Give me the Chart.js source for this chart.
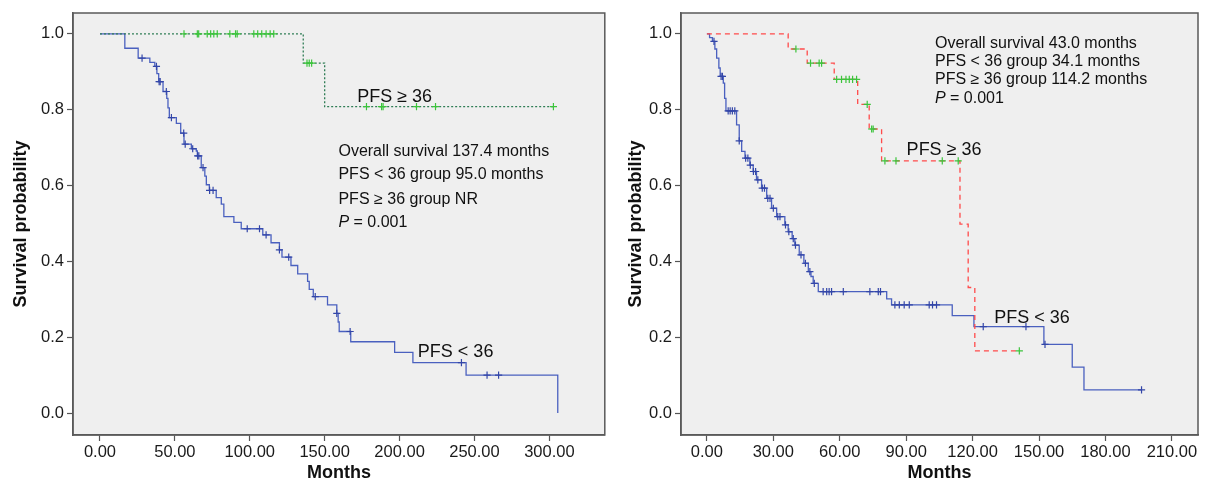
<!DOCTYPE html>
<html>
<head>
<meta charset="utf-8">
<script src="https://cdn.jsdelivr.net/npm/chart.js@4.4.0/dist/chart.umd.min.js"></script>
<style>
  body { margin: 0; background: #fff; }
  #wrap { position: relative; width: 1206px; height: 485px; }
  #c1 { position: absolute; left: 0; top: 0; }
  #c2 { position: absolute; left: 610px; top: 0; }
</style>
</head>
<body>
<div id="wrap">
  <canvas id="c1" width="610" height="485"></canvas>
  <canvas id="c2" width="596" height="485"></canvas>
</div>
<script>
// ---- data (months, survival) ----
// left panel, PFS < 36
const leftLowTimes = [0, 16.6, 25.5, 33.3, 36.6, 38.0, 39.2, 42.1, 44.6, 45.4, 46.3, 51.0, 53.9, 56.1, 61.0, 64.3, 65.0, 67.6, 70.0, 71.0, 73.0, 77.6, 81.0, 82.7, 89.4, 94.3, 108.7, 114.2, 119.8, 121.5, 127.5, 132.0, 138.6, 139.7, 142.4, 151.9, 158.1, 159.0, 159.7, 167.4, 196.7, 208.9, 244.4, 305.6];
const leftLowSurv = [1.0, 0.962, 0.936, 0.925, 0.914, 0.895, 0.874, 0.848, 0.83, 0.805, 0.779, 0.764, 0.738, 0.709, 0.697, 0.691, 0.678, 0.647, 0.625, 0.602, 0.587, 0.568, 0.551, 0.518, 0.503, 0.486, 0.470, 0.449, 0.430, 0.411, 0.389, 0.367, 0.347, 0.326, 0.307, 0.285, 0.263, 0.24, 0.215, 0.188, 0.160, 0.133, 0.100, 0.0];
const leftLowCensor = [28.1, 37.7, 39.5, 40.2, 44.3, 47.7, 55.9, 56.9, 61.9, 65.2, 66.0, 68.8, 73.2, 75.5, 98.3, 106.5, 110.9, 119.8, 126.0, 143.7, 158.1, 167.0, 241.3, 258.4, 266.1];

// left panel, PFS >= 36
const leftHighTimes = [0, 135.7, 150.0, 302.7];
const leftHighSurv = [1.0, 0.923, 0.808, 0.808];
const leftHighCensor = [56.1, 65.0, 65.9, 71.6, 73.9, 76.0, 78.3, 86.7, 90.5, 91.6, 102.7, 105.3, 108.0, 110.9, 113.6, 116.0, 138.2, 139.7, 141.3, 177.9, 188.0, 189.0, 211.3, 224.0, 302.7];

// right panel, PFS < 36
const rightLowTimes = [0, 1.2, 2.5, 3.6, 4.4, 5.4, 6.0, 7.4, 8.0, 8.6, 13.4, 14.6, 15.7, 17.2, 19.4, 20.9, 22.4, 24.7, 27.0, 29.2, 31.5, 35.2, 36.7, 38.5, 39.7, 41.7, 43.8, 45.8, 47.0, 48.0, 50.3, 81.2, 83.4, 110.8, 120.6, 152.2, 165.0, 170.3, 196.3];
const rightLowSurv = [1.0, 0.99, 0.98, 0.96, 0.936, 0.91, 0.888, 0.870, 0.83, 0.797, 0.760, 0.718, 0.690, 0.672, 0.654, 0.637, 0.615, 0.593, 0.566, 0.540, 0.518, 0.496, 0.478, 0.46, 0.443, 0.417, 0.395, 0.373, 0.36, 0.342, 0.320, 0.301, 0.285, 0.257, 0.228, 0.181, 0.121, 0.061, 0.061];
const rightLowCensor = [3.2, 6.4, 7.0, 9.6, 10.5, 11.5, 12.6, 14.6, 17.5, 18.5, 19.6, 21.0, 22.0, 23.0, 25.0, 26.0, 27.5, 28.5, 30.0, 32.0, 33.0, 35.5, 37.0, 39.0, 40.0, 42.5, 44.5, 46.5, 48.5, 52.5, 54.1, 55.2, 56.3, 61.6, 73.6, 77.4, 78.4, 84.9, 86.9, 89.1, 91.4, 100.4, 101.9, 103.7, 124.8, 144.1, 152.7, 196.3];

// right panel, PFS >= 36
const rightHighTimes = [0, 36.7, 45.3, 57.5, 68.1, 73.3, 78.9, 114.3, 118.0, 121.0, 141.1];
const rightHighSurv = [1.0, 0.960, 0.923, 0.880, 0.814, 0.749, 0.665, 0.498, 0.331, 0.164, 0.164];
const rightHighCensor = [40.2, 46.8, 50.7, 51.8, 58.6, 60.8, 62.8, 64.3, 65.8, 67.6, 72.4, 74.4, 75.1, 80.4, 85.4, 106.3, 113.5, 141.1];

// tick values
const leftXTicks = [0, 50, 100, 150, 200, 250, 300];
const rightXTicks = [0, 30, 60, 90, 120, 150, 180, 210];
const yTicks = [0, 0.2, 0.4, 0.6, 0.8, 1.0];

// ---- helpers ----
const FONT = 'Arial, "Liberation Sans", sans-serif';
const BLUE = '#4a60bf';
const BLUE_MARK = '#3346a8';
const GREEN_MARK = '#3cc43c';

function stepPoints(times, surv) {
  return times.map((t, i) => ({ x: t, y: surv[i] }));
}

// survival level of a curve at time t (used to sit censor marks on the curve)
function survAt(times, surv, t) {
  let s = surv[0];
  for (let i = 0; i < times.length; i++) {
    if (times[i] <= t) s = surv[i];
  }
  return s;
}

function censorPoints(times, surv, cens) {
  return cens.map(t => ({ x: t, y: survAt(times, surv, t) }));
}

const frame = {
  id: 'frame',
  beforeDraw(chart) {
    const { ctx, chartArea: a } = chart;
    ctx.save();
    ctx.fillStyle = '#efefef';
    ctx.fillRect(a.left, a.top, a.width, a.height);
    ctx.restore();
  },
  afterDraw(chart) {
    const { ctx, chartArea: a } = chart;
    ctx.save();
    ctx.strokeStyle = '#5a5a5a';
    ctx.lineWidth = 1.5;
    ctx.strokeRect(a.left, a.top, a.width, a.height);
    ctx.restore();
  }
};

function notesPlugin(notes) {
  return {
    id: 'notes',
    afterDatasetsDraw(chart) {
      const { ctx, scales } = chart;
      ctx.save();
      ctx.fillStyle = '#111';
      ctx.textBaseline = 'alphabetic';
      ctx.textAlign = 'left';
      notes.forEach(n => {
        let px = scales.x.getPixelForValue(n.x);
        const py = scales.y.getPixelForValue(n.y);
        if (n.italic) {
          ctx.font = 'italic ' + n.size + 'px ' + FONT;
          ctx.fillText(n.italic, px, py);
          px += ctx.measureText(n.italic).width;
        }
        ctx.font = n.size + 'px ' + FONT;
        ctx.fillText(n.text, px, py);
      });
      ctx.restore();
    }
  };
}

function makeChart(canvas, cfg) {
  const datasets = [];
  cfg.curves.forEach(c => {
    datasets.push({
      type: 'line',
      data: stepPoints(c.times, c.surv),
      stepped: true,
      borderColor: c.color,
      borderWidth: 1.3,
      borderDash: c.dash || [],
      pointRadius: 0,
      fill: false,
      order: c.order
    });
    datasets.push({
      type: 'scatter',
      data: censorPoints(c.times, c.surv, c.censor),
      pointStyle: 'cross',
      pointRadius: 3.6,
      pointBorderWidth: 1.2,
      pointBorderColor: c.markColor,
      borderColor: c.markColor,
      showLine: false,
      order: c.order - 0.5
    });
  });

  return new Chart(canvas.getContext('2d'), {
    data: { datasets },
    options: {
      responsive: false,
      animation: false,
      events: [],
      layout: { padding: { top: 13, right: cfg.padRight, left: 0, bottom: 0 } },
      plugins: { legend: { display: false }, tooltip: { enabled: false } },
      scales: {
        x: {
          type: 'linear',
          min: cfg.xMin,
          max: cfg.xMax,
          afterBuildTicks: s => { s.ticks = cfg.xTicks.map(v => ({ value: v })); },
          afterFit: s => { s.height = 50; },
          ticks: {
            autoSkip: false,
            maxRotation: 0,
            padding: 2,
            color: '#1a1a1a',
            font: { family: FONT, size: 16.5 },
            callback: v => v.toFixed(2)
          },
          grid: { drawOnChartArea: false, drawTicks: true, tickLength: 6, color: '#555', tickWidth: 1.2 },
          border: { color: '#5a5a5a', width: 1.5 },
          title: {
            display: true,
            text: 'Months',
            color: '#111',
            font: { family: FONT, size: 18, weight: 'bold' },
            padding: { top: 0, bottom: 1 }
          }
        },
        y: {
          type: 'linear',
          min: -0.058,
          max: 1.055,
          afterBuildTicks: s => { s.ticks = yTicks.map(v => ({ value: v })); },
          afterFit: s => { s.width = cfg.yWidth; },
          ticks: {
            padding: 3,
            color: '#1a1a1a',
            font: { family: FONT, size: 16.5 },
            callback: v => v.toFixed(1)
          },
          grid: { drawOnChartArea: false, drawTicks: true, tickLength: 6, color: '#555', tickWidth: 1.2 },
          border: { color: '#5a5a5a', width: 1.5 },
          title: {
            display: true,
            text: 'Survival probability',
            color: '#111',
            font: { family: FONT, size: 18, weight: 'bold' },
            padding: { top: cfg.yTitlePad, bottom: 0 }
          }
        }
      }
    },
    plugins: [frame, notesPlugin(cfg.notes)]
  });
}

window.addEventListener('DOMContentLoaded', () => {
  makeChart(document.getElementById('c1'), {
    xMin: -18, xMax: 337, xTicks: leftXTicks, yWidth: 73, padRight: 3, yTitlePad: 10,
    curves: [
      { times: leftLowTimes, surv: leftLowSurv, censor: leftLowCensor, color: BLUE, markColor: BLUE_MARK, order: 4 },
      { times: leftHighTimes, surv: leftHighSurv, censor: leftHighCensor, color: '#2f7d55', dash: [2, 2], markColor: GREEN_MARK, order: 2 }
    ],
    notes: [
      { x: 171.7, y: 0.821, size: 18, text: 'PFS \u2265 36' },
      { x: 159.2, y: 0.678, size: 16, text: 'Overall survival 137.4 months' },
      { x: 159.2, y: 0.617, size: 16, text: 'PFS < 36 group 95.0 months' },
      { x: 159.2, y: 0.551, size: 16, text: 'PFS \u2265 36 group NR' },
      { x: 159.2, y: 0.491, size: 16, italic: 'P', text: ' = 0.001' },
      { x: 212.2, y: 0.148, size: 18, text: 'PFS < 36' }
    ]
  });

  makeChart(document.getElementById('c2'), {
    xMin: -11.7, xMax: 221.8, xTicks: rightXTicks, yWidth: 71, padRight: 8, yTitlePad: 15,
    curves: [
      { times: rightLowTimes, surv: rightLowSurv, censor: rightLowCensor, color: BLUE, markColor: BLUE_MARK, order: 4 },
      { times: rightHighTimes, surv: rightHighSurv, censor: rightHighCensor, color: '#ff4b4b', dash: [5, 4], markColor: GREEN_MARK, order: 2 }
    ],
    notes: [
      { x: 103, y: 0.963, size: 16, text: 'Overall survival 43.0 months' },
      { x: 103, y: 0.916, size: 16, text: 'PFS < 36 group 34.1 months' },
      { x: 103, y: 0.868, size: 16, text: 'PFS \u2265 36 group 114.2 months' },
      { x: 103, y: 0.818, size: 16, italic: 'P', text: ' = 0.001' },
      { x: 90.2, y: 0.681, size: 18, text: 'PFS \u2265 36' },
      { x: 129.8, y: 0.238, size: 18, text: 'PFS < 36' }
    ]
  });
});
</script>
</body>
</html>
